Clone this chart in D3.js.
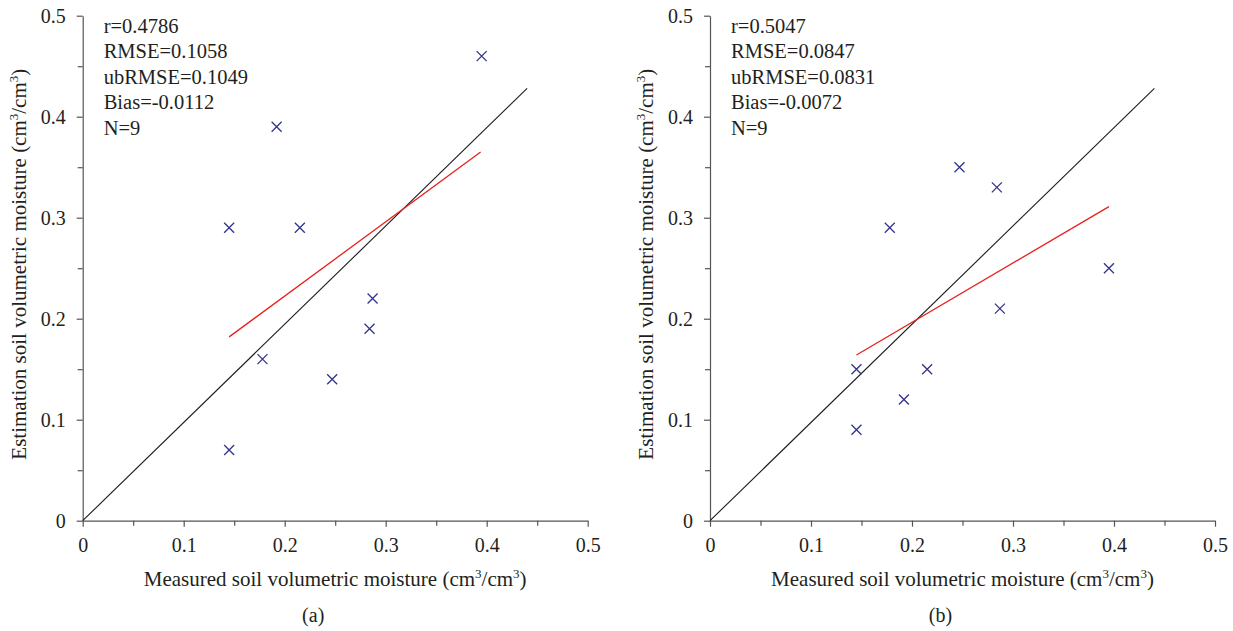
<!DOCTYPE html>
<html>
<head>
<meta charset="utf-8">
<script src="https://cdn.jsdelivr.net/npm/d3@7"></script>
<style>
  body { margin: 0; background: #fff; }
  text { font-family: "Liberation Serif", "DejaVu Serif", serif; fill: #231f20; }
</style>
</head>
<body>
<div id="chart-area"></div>
<script>
// measured values (same sites in both panels)
var measured = [0.145, 0.145, 0.178, 0.192, 0.215, 0.247, 0.284, 0.287, 0.395];
var estimatedA = [0.29, 0.07, 0.16, 0.39, 0.29, 0.14, 0.19, 0.22, 0.46];
var estimatedB = [0.15, 0.09, 0.29, 0.12, 0.15, 0.35, 0.33, 0.21, 0.25];

// fitted (red) lines, endpoints
var fitA = [[0.145, 0.182], [0.394, 0.365]];
var fitB = [[0.145, 0.164], [0.395, 0.311]];
// reference (black) line
var refLine = [[0, 0], [0.44, 0.428]];

var statsA = ['r=0.4786', 'RMSE=0.1058', 'ubRMSE=0.1049', 'Bias=-0.0112', 'N=9'];
var statsB = ['r=0.5047', 'RMSE=0.0847', 'ubRMSE=0.0831', 'Bias=-0.0072', 'N=9'];

var majorTicks = [0, 0.1, 0.2, 0.3, 0.4, 0.5];
var minorTicks = [0.05, 0.15, 0.25, 0.35, 0.45];

var panels = [
    { left: 82.7, est: estimatedA, fit: fitA, stats: statsA, tag: '(a)' },
    { left: 710, est: estimatedB, fit: fitB, stats: statsB, tag: '(b)' }
];

var width = 505;
var height = 505;
var top0 = 15.7;

var svg = d3.select('#chart-area')
    .append('svg')
    .attr('width', 1233)
    .attr('height', 631);

var fmt = d => d === 0 ? '0' : d3.format('.1f')(d);

panels.forEach(p => {
    var g = svg.append('g')
        .attr('transform', `translate(${p.left}, ${top0})`);

    var x = d3.scaleLinear().domain([0, 0.5]).range([0, width]);
    var y = d3.scaleLinear().domain([0, 0.5]).range([height, 0]);

    // axes: major ticks with labels, minor ticks without
    g.append('g')
        .attr('transform', `translate(0, ${height})`)
        .call(d3.axisBottom(x).tickValues(majorTicks).tickFormat(fmt).tickSize(6).tickSizeOuter(0).tickPadding(11));
    g.append('g')
        .attr('transform', `translate(0, ${height})`)
        .call(d3.axisBottom(x).tickValues(minorTicks).tickFormat('').tickSize(5).tickSizeOuter(0))
        .select('.domain').remove();

    g.append('g')
        .call(d3.axisLeft(y).tickValues(majorTicks).tickFormat(fmt).tickSize(6).tickSizeOuter(0).tickPadding(11));
    g.append('g')
        .call(d3.axisLeft(y).tickValues(minorTicks).tickFormat('').tickSize(5).tickSizeOuter(0))
        .select('.domain').remove();

    g.selectAll('.domain, .tick line').attr('stroke', '#555').attr('stroke-width', 1.2);
    g.selectAll('.tick text')
        .attr('font-size', '20px')
        .attr('font-family', '"Liberation Serif", serif')
        .attr('fill', '#231f20');

    var line = d3.line().x(d => x(d[0])).y(d => y(d[1]));

    g.append('path')
        .attr('d', line(refLine))
        .attr('fill', 'none')
        .attr('stroke', '#1a1a1a')
        .attr('stroke-width', 1.1);

    g.append('path')
        .attr('d', line(p.fit))
        .attr('fill', 'none')
        .attr('stroke', '#e8201c')
        .attr('stroke-width', 1.3);

    // x markers
    g.selectAll('.pt')
        .data(measured.map((m, i) => [m, p.est[i]]))
        .enter()
        .append('path')
        .attr('class', 'pt')
        .attr('transform', d => `translate(${x(d[0])}, ${y(d[1])})`)
        .attr('d', 'M-5,-5L5,5M-5,5L5,-5')
        .attr('stroke', '#33338a')
        .attr('stroke-width', 1.3)
        .attr('fill', 'none');

    // stats block
    g.append('g').selectAll('text')
        .data(p.stats)
        .enter()
        .append('text')
        .attr('x', 21)
        .attr('y', (d, i) => 17 + i * 25.5)
        .attr('font-size', '20.5px')
        .text(d => d);

    // axis titles
    var xt = g.append('text')
        .attr('x', width / 2)
        .attr('y', height + 65)
        .attr('text-anchor', 'middle')
        .attr('font-size', '21px');
    addUnitText(xt, 'Measured soil volumetric moisture (cm');

    var yt = g.append('text')
        .attr('transform', `translate(${-57}, ${height / 2 - 4}) rotate(-90)`)
        .attr('text-anchor', 'middle')
        .attr('font-size', '21px');
    addUnitText(yt, 'Estimation soil volumetric moisture (cm');

    g.append('text')
        .attr('x', width / 2 - 22)
        .attr('y', height + 101)
        .attr('text-anchor', 'middle')
        .attr('font-size', '20px')
        .text(p.tag);
});

function addUnitText(sel, lead) {
    sel.append('tspan').text(lead);
    sel.append('tspan').attr('dy', -8).attr('font-size', '13px').text('3');
    sel.append('tspan').attr('dy', 8).text('/cm');
    sel.append('tspan').attr('dy', -8).attr('font-size', '13px').text('3');
    sel.append('tspan').attr('dy', 8).text(')');
}
</script>
</body>
</html>
